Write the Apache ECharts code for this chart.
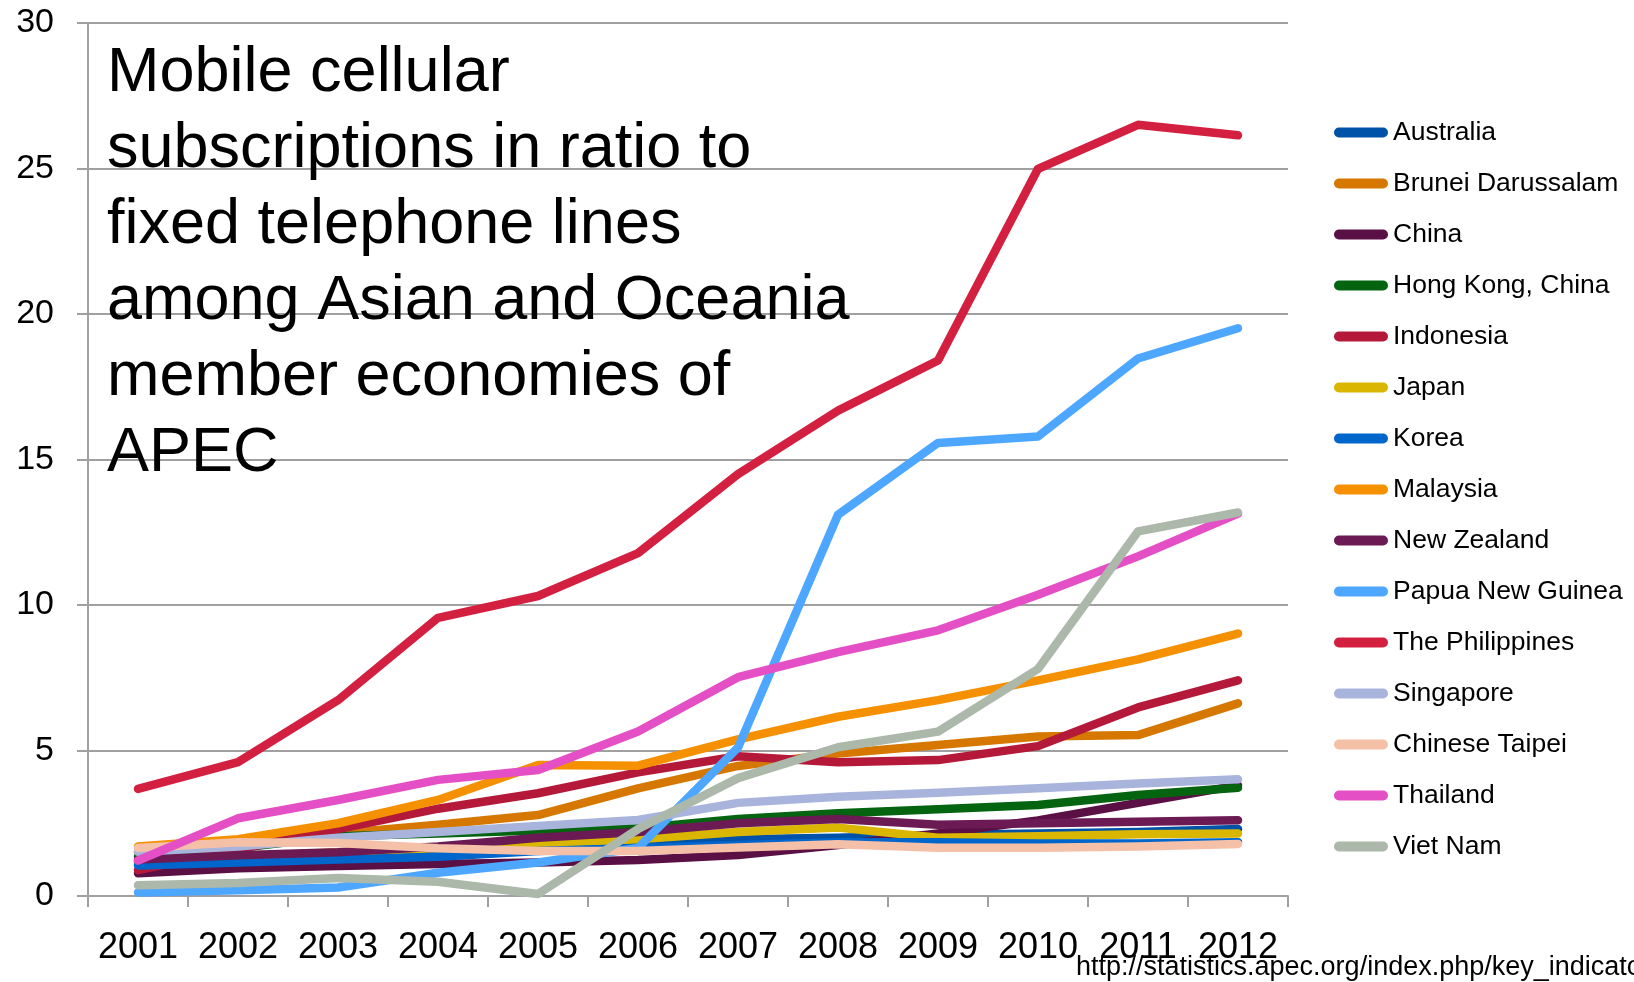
<!DOCTYPE html>
<html>
<head>
<meta charset="utf-8">
<script src="https://cdn.jsdelivr.net/npm/echarts@6/dist/echarts.min.js"></script>
<style>
html,body{margin:0;padding:0;background:#fff;}
#chart{width:1634px;height:982px;}
</style>
</head>
<body>
<div id="chart"></div>
<script>
const years = ['2001','2002','2003','2004','2005','2006','2007','2008','2009','2010','2011','2012'];
const yTicks = [0, 5, 10, 15, 20, 25, 30];
const economies = ['Australia','Brunei Darussalam','China','Hong Kong, China','Indonesia','Japan','Korea','Malaysia','New Zealand','Papua New Guinea','The Philippines','Singapore','Chinese Taipei','Thailand','Viet Nam'];

const australia   = [1.15, 1.25, 1.35, 1.50, 1.70, 1.80, 1.95, 2.00, 2.10, 2.15, 2.20, 2.30];
const brunei      = [1.50, 1.85, 2.15, 2.45, 2.78, 3.70, 4.47, 4.90, 5.19, 5.48, 5.53, 6.62];
const china       = [0.78, 0.95, 1.03, 1.10, 1.15, 1.24, 1.41, 1.75, 2.15, 2.60, 3.20, 3.80];
const hongKong    = [1.35, 1.65, 2.05, 2.15, 2.25, 2.33, 2.65, 2.84, 2.98, 3.13, 3.47, 3.72];
const indonesia   = [0.89, 1.60, 2.30, 3.00, 3.53, 4.25, 4.80, 4.60, 4.67, 5.15, 6.48, 7.41];
const japan       = [1.20, 1.35, 1.50, 1.65, 1.80, 1.95, 2.20, 2.35, 2.00, 2.05, 2.12, 2.15];
const korea       = [1.05, 1.15, 1.25, 1.35, 1.55, 1.65, 1.75, 1.85, 1.85, 1.80, 1.80, 1.85];
const malaysia    = [1.70, 1.95, 2.50, 3.30, 4.50, 4.48, 5.38, 6.16, 6.73, 7.41, 8.13, 9.02];
const newZealand  = [1.25, 1.40, 1.50, 1.70, 2.00, 2.20, 2.50, 2.65, 2.45, 2.50, 2.55, 2.60];
const papuaNG     = [0.12, 0.20, 0.29, 0.80, 1.15, 1.65, 5.10, 13.10, 15.57, 15.79, 18.47, 19.51];
const philippines = [3.68, 4.60, 6.73, 9.56, 10.31, 11.78, 14.50, 16.68, 18.40, 24.99, 26.50, 26.14];
const singapore   = [1.52, 1.70, 2.00, 2.20, 2.41, 2.61, 3.20, 3.41, 3.55, 3.70, 3.87, 4.01];
const taipei      = [1.65, 1.85, 1.82, 1.64, 1.55, 1.55, 1.67, 1.78, 1.66, 1.66, 1.70, 1.79];
const thailand    = [1.22, 2.67, 3.30, 3.99, 4.33, 5.65, 7.52, 8.38, 9.13, 10.35, 11.67, 13.14];
const vietNam     = [0.37, 0.45, 0.62, 0.49, 0.07, 2.30, 4.05, 5.11, 5.65, 7.80, 12.53, 13.18];

const seriesValues = [australia, brunei, china, hongKong, indonesia, japan, korea, malaysia, newZealand, papuaNG, philippines, singapore, taipei, thailand, vietNam];
const colors = ['#0052a8','#d67800','#5a0f45','#056410','#b5193a','#dab600','#0066cc','#f59000','#6b1a54','#4da6ff','#d42040','#a9b4dc','#f5c0a8','#e54fc6','#abb8aa'];

const titleText = 'Mobile cellular\nsubscriptions in ratio to\nfixed telephone lines\namong Asian and Oceania\nmember economies of\nAPEC';
const sourceText = 'http://statistics.apec.org/index.php/key_indicato';

const FONT = '"Liberation Sans", Arial, sans-serif';
const chart = echarts.init(document.getElementById('chart'), null, {renderer: 'canvas'});

const series = economies.map((name, i) => ({
  name: name,
  type: 'line',
  data: seriesValues[i],
  showSymbol: false,
  symbol: 'none',
  color: colors[i],
  itemStyle: {color: colors[i]},
  lineStyle: {color: colors[i], width: 8.5, cap: 'round', join: 'round'},
  emphasis: {disabled: true},
  animation: false
}));

chart.setOption({
  animation: false,
  backgroundColor: '#ffffff',
  title: {
    text: titleText,
    left: 102,
    top: 31,
    textStyle: {fontFamily: FONT, fontSize: 63, fontWeight: 'normal', color: '#000', lineHeight: 76}
  },
  graphic: [{
    type: 'text',
    left: 1076,
    top: 954,
    style: {text: sourceText, font: '27px ' + FONT, fill: '#000'}
  }],
  legend: {
    orient: 'vertical',
    left: 1334,
    top: 119,
    padding: 0,
    itemWidth: 54,
    itemHeight: 10,
    itemGap: 24,
    icon: 'path://M5,0 L49,0 A5,5 0 0 1 49,10 L5,10 A5,5 0 0 1 5,0 Z',
    textStyle: {fontFamily: FONT, fontSize: 26.5, color: '#000', lineHeight: 27},
    data: economies
  },
  grid: {left: 88, top: 23, width: 1200, height: 873, containLabel: false},
  xAxis: {
    type: 'category',
    data: years,
    boundaryGap: true,
    axisLine: {lineStyle: {color: '#a0a0a0', width: 2}},
    axisTick: {show: true, length: 11, lineStyle: {color: '#a0a0a0', width: 2}},
    axisLabel: {fontFamily: FONT, fontSize: 36, color: '#000', margin: 34, interval: 0}
  },
  yAxis: {
    type: 'value',
    min: yTicks[0],
    max: yTicks[yTicks.length - 1],
    interval: 5,
    axisLine: {show: true, lineStyle: {color: '#a0a0a0', width: 2}},
    axisTick: {show: true, length: 11, lineStyle: {color: '#a0a0a0', width: 2}},
    splitLine: {show: true, lineStyle: {color: '#a0a0a0', width: 2}},
    axisLabel: {fontFamily: FONT, fontSize: 34, color: '#000', margin: 34}
  },
  series: series
});
</script>
</body>
</html>
